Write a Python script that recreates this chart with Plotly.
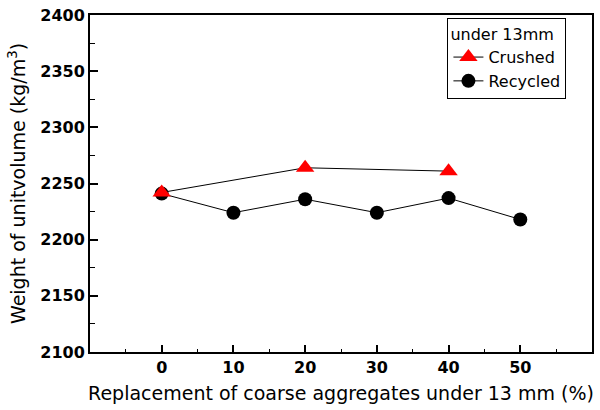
import plotly.graph_objects as go

x_crushed = [0, 20, 40]
y_crushed = [2242, 2264, 2261]
x_recycled = [0, 10, 20, 30, 40, 50]
y_recycled = [2241, 2224, 2236, 2224, 2237, 2218]
x_ticks = [0, 10, 20, 30, 40, 50]
y_ticks = [2100, 2150, 2200, 2250, 2300, 2350, 2400]

FONT = "DejaVu Sans"

fig = go.Figure()
fig.add_trace(go.Scatter(
    x=x_recycled, y=y_recycled, mode="lines+markers", name="Recycled",
    line=dict(color="black", width=1),
    marker=dict(symbol="circle", size=14, color="black"),
    legendrank=2,
))
fig.add_trace(go.Scatter(
    x=x_crushed, y=y_crushed, mode="lines+markers", name="Crushed",
    line=dict(color="black", width=1),
    marker=dict(symbol="triangle-up", size=16, color="#ff0000"),
    legendrank=1,
))

fig.update_layout(
    width=600, height=410,
    margin=dict(l=90, r=6, t=12, b=58),
    paper_bgcolor="white", plot_bgcolor="white",
    font=dict(family=FONT, color="black", size=16),
    showlegend=True,
    legend=dict(
        x=0.712, y=0.99, xanchor="left", yanchor="top",
        bordercolor="black", borderwidth=1, bgcolor="white",
        title=dict(text="under 13mm", font=dict(size=16, family=FONT)),
        font=dict(size=16, family=FONT),
        tracegroupgap=0, itemsizing="trace",
    ),
    xaxis=dict(
        range=[-10, 60], showgrid=False, zeroline=False,
        showline=True, linecolor="black", linewidth=2, mirror=True,
        ticks="inside", ticklen=7, tickwidth=1.5, tickcolor="black",
        tickvals=x_ticks, ticktext=[str(v) for v in x_ticks],
        tickfont=dict(size=16, family=FONT, weight="bold"),
        minor=dict(ticks="inside", ticklen=3, tickwidth=1, dtick=5, tick0=0, tickcolor="black"),
        title=dict(text="Replacement of coarse aggregates under 13 mm (%)",
                   font=dict(size=19, family=FONT), standoff=10),
    ),
    yaxis=dict(
        range=[2100, 2400], showgrid=False, zeroline=False,
        showline=True, linecolor="black", linewidth=2, mirror=True,
        ticks="inside", ticklen=8, tickwidth=1.5, tickcolor="black",
        tickvals=y_ticks, ticktext=[str(v) for v in y_ticks],
        tickfont=dict(size=16, family=FONT, weight="bold"),
        minor=dict(ticks="inside", ticklen=5, tickwidth=1, dtick=25, tick0=2100, tickcolor="black"),
        title=dict(text="Weight of unitvolume (kg/m<sup>3</sup>)",
                   font=dict(size=19, family=FONT), standoff=10),
    ),
)

fig.write_html("out.html")
